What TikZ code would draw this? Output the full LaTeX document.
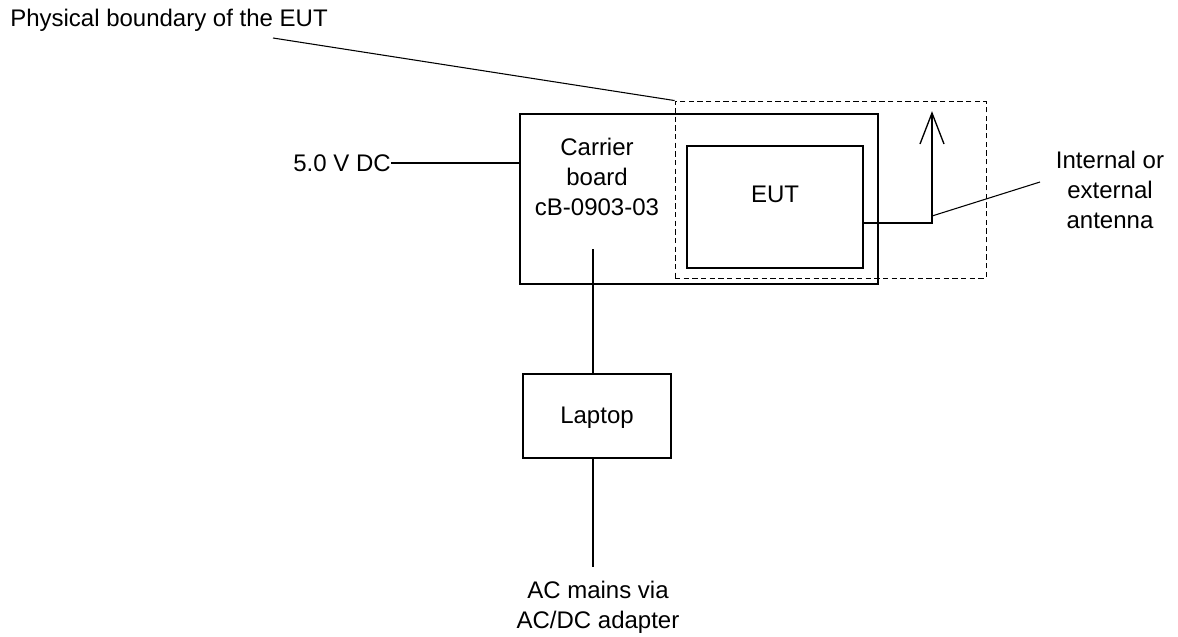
\documentclass[tikz,border=0pt]{standalone}
\usepackage{fontspec}
\setmainfont{Liberation Sans}
\usetikzlibrary{fit}
\begin{document}
\begin{tikzpicture}[x=0.75pt,y=-0.75pt,
  box/.style={draw, line width=1pt, inner sep=0pt},
  dbox/.style={draw, dashed, line width=0.7pt, dash pattern=on 4pt off 2.5pt, inner sep=0pt},
  wire/.style={line width=1pt},
  lead/.style={line width=0.8pt},
  lbl/.style={font=\fontsize{18}{22.5}\selectfont, align=center, inner sep=0pt}]
\useasboundingbox (0,0) rectangle (1178,636);
% boxes
\node[box, fit={(520,114)(878,284)}] (carrier) {};
\node[dbox, fit={(675,101)(986,278)}] (boundary) {};
\node[box, fit={(687,146)(863,268)}] (eut) {};
\node[box, fit={(523,374)(671,458)}] (laptop) {};
% texts
\node[lbl] (carriertxt) at (597,177) {Carrier\\board\\cB-0903-03};
\node[lbl] (euttxt) at (775,194) {EUT};
\node[lbl] (laptoptxt) at (597,418) {Laptop};
\node[lbl, anchor=east] (dc) at (391,163) {5.0 V DC};
\node[lbl, anchor=west] (phys) at (10,20) {Physical boundary of the EUT};
\node[lbl] (ant) at (1110,190) {Internal or\\external\\antenna};
\node[lbl] (ac) at (598,607) {AC mains via\\AC/DC adapter};
% coordinates
\coordinate (cbin) at (593,249);
\coordinate (acend) at (593,567);
\coordinate (antout) at (863,223);
\coordinate (anttip) at (932,113);
\coordinate (antfoot) at (932,216);
\coordinate (antlead) at (1040,182);
\coordinate (physlead) at (273,38);
% connectors
\draw[wire] (dc.east) -- (carrier.west |- dc.east);
\draw[wire] (cbin) -- (cbin |- laptop.north);
\draw[wire] (laptop.south -| acend) -- (acend);
\draw[wire] (antout) -| (anttip);
\draw[wire] (920,144) -- (anttip) -- (944,144);
\draw[lead] (antfoot) -- (antlead);
\draw[lead] (physlead) -- (boundary.north west);
\end{tikzpicture}
\end{document}
